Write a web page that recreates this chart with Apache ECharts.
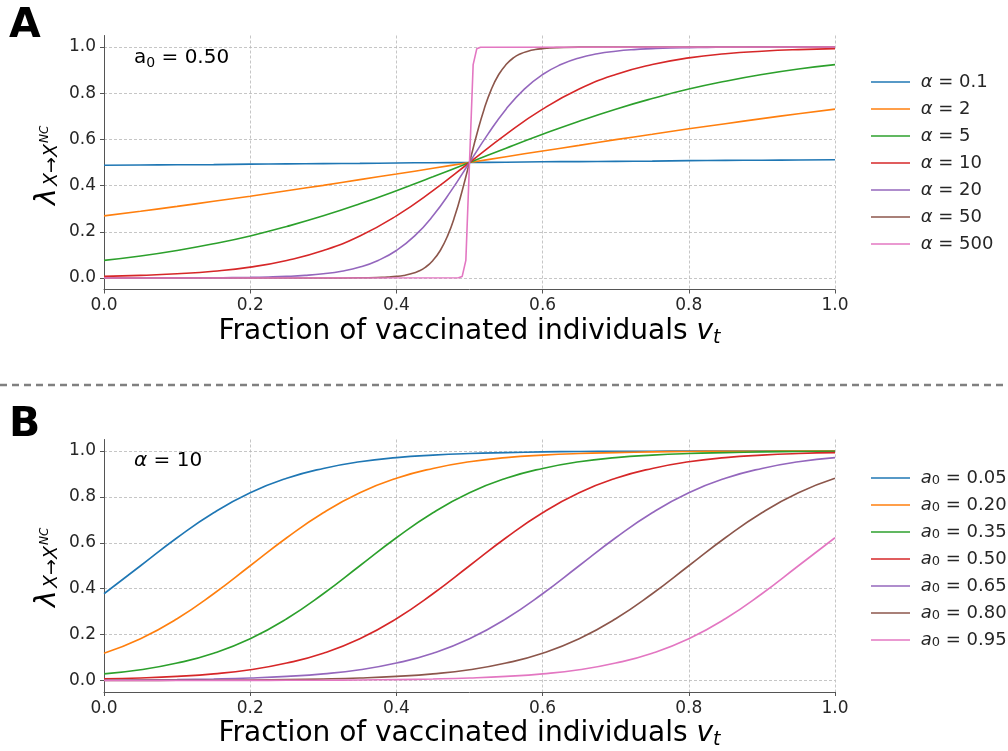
<!DOCTYPE html>
<html><head><meta charset="utf-8">
<script src="https://cdn.jsdelivr.net/npm/echarts@6/dist/echarts.min.js"></script>
<style>html,body{margin:0;padding:0;background:#fff}#c{width:1008px;height:751px}</style>
</head><body><div id="c"></div>
<script>
// ---------- data ----------
const xTicks = [0, 0.2, 0.4, 0.6, 0.8, 1.0];
const yTicks = [0, 0.2, 0.4, 0.6, 0.8, 1.0];

const xGrid = [0,0.05,0.1,0.15,0.2,0.25,0.3,0.35,0.4,0.45,0.5,0.55,0.6,0.65,0.7,0.75,0.8,0.85,0.9,0.95,1.0];
const xFine = [0,0.025,0.05,0.075,0.1,0.125,0.15,0.175,0.2,0.225,0.25,0.275,0.3,0.325,0.35,0.375,0.4,0.425,0.45,0.475,0.5,0.525,0.55,0.575,0.6,0.625,0.65,0.675,0.7,0.725,0.75,0.775,0.8,0.825,0.85,0.875,0.9,0.925,0.95,0.975,1.0];
const xA50 = [0,0.30,0.35,0.38,0.39,0.40,0.41,0.42,0.43,0.44,0.45,0.46,0.47,0.48,0.49,0.50,0.51,0.52,0.53,0.54,0.55,0.56,0.57,0.58,0.59,0.60,0.61,0.62,0.65,0.70,1.0];
const xA500 = [0,0.485,0.49,0.495,0.5,0.505,0.51,0.515,1.0];

// Panel A  (a0 = 0.50)
const namesA = ['α = 0.1','α = 2','α = 5','α = 10','α = 20','α = 50','α = 500'];
const yA01 = [0.488,0.489,0.490,0.491,0.493,0.494,0.495,0.496,0.498,0.499,0.500,0.501,0.503,0.504,0.505,0.506,0.508,0.509,0.510,0.511,0.512];
const yA2  = [0.269,0.289,0.310,0.332,0.354,0.378,0.401,0.426,0.450,0.475,0.500,0.525,0.550,0.574,0.599,0.622,0.646,0.668,0.690,0.711,0.731];
const yA5  = [0.076,0.095,0.119,0.148,0.182,0.223,0.269,0.321,0.378,0.438,0.500,0.562,0.622,0.679,0.731,0.777,0.818,0.852,0.881,0.905,0.924];
const yA10 = [0.007,0.011,0.018,0.029,0.047,0.076,0.119,0.182,0.269,0.378,0.500,0.622,0.731,0.818,0.881,0.924,0.953,0.971,0.982,0.989,0.993];
const yA20 = [0.0000,0.0001,0.0001,0.0002,0.0003,0.0006,0.0009,0.0015,0.0025,0.0041,0.0067,0.011,0.018,0.029,0.047,0.076,0.119,0.182,0.269,0.378,0.500,0.622,0.731,0.818,0.881,0.924,0.953,0.971,0.982,0.989,0.993,0.996,0.9975,0.9985,0.9991,0.9994,0.9997,0.9998,0.9999,0.9999,1.0];
const yA50 = [0,0.0000,0.0006,0.0025,0.0041,0.0067,0.011,0.018,0.029,0.047,0.076,0.119,0.182,0.269,0.378,0.500,0.622,0.731,0.818,0.881,0.924,0.953,0.971,0.982,0.989,0.993,0.996,0.9975,0.9995,1.0,1.0];
const yA500 = [0,0.0006,0.0067,0.076,0.500,0.924,0.993,0.9994,1.0];

// Panel B  (alpha = 10)
const namesB = ['a0 = 0.05','a0 = 0.20','a0 = 0.35','a0 = 0.50','a0 = 0.65','a0 = 0.80','a0 = 0.95'];
const yB05 = [0.378,0.500,0.622,0.731,0.818,0.881,0.924,0.953,0.971,0.982,0.989,0.993,0.996,0.998,0.9985,0.999,0.9995,0.9997,0.9998,0.9999,0.9999];
const yB20 = [0.119,0.182,0.269,0.378,0.500,0.622,0.731,0.818,0.881,0.924,0.953,0.971,0.982,0.989,0.993,0.996,0.998,0.9985,0.999,0.9995,0.9997];
const yB35 = [0.029,0.047,0.076,0.119,0.182,0.269,0.378,0.500,0.622,0.731,0.818,0.881,0.924,0.953,0.971,0.982,0.989,0.993,0.996,0.998,0.9985];
const yB50 = [0.007,0.011,0.018,0.029,0.047,0.076,0.119,0.182,0.269,0.378,0.500,0.622,0.731,0.818,0.881,0.924,0.953,0.971,0.982,0.989,0.993];
const yB65 = [0.0015,0.0025,0.0041,0.0067,0.011,0.018,0.029,0.047,0.076,0.119,0.182,0.269,0.378,0.500,0.622,0.731,0.818,0.881,0.924,0.953,0.971];
const yB80 = [0.0003,0.0006,0.0009,0.0015,0.0025,0.0041,0.0067,0.011,0.018,0.029,0.047,0.076,0.119,0.182,0.269,0.378,0.500,0.622,0.731,0.818,0.881];
const yB95 = [0.0001,0.0001,0.0002,0.0003,0.0006,0.0009,0.0015,0.0025,0.0041,0.0067,0.011,0.018,0.029,0.047,0.076,0.119,0.182,0.269,0.378,0.500,0.622];

const colors = ['#1f77b4','#ff7f0e','#2ca02c','#d62728','#9467bd','#8c564b','#e377c2'];

// ---------- chart ----------
const FF = 'DejaVu Sans';
const TXT = '#262626';
const AX = '#555555';

function mk(name, xs, ys, idx, gi, smooth) {
  return {
    type: 'line', name: name, xAxisIndex: gi, yAxisIndex: gi,
    data: xs.map((x, i) => [x, ys[i]]),
    showSymbol: false, symbol: 'none', silent: true,
    smooth: smooth ? 0.5 : false,
    lineStyle: { width: 1.6, color: colors[idx] },
    itemStyle: { color: colors[idx] }
  };
}

function xAx(gi) {
  return {
    type: 'value', gridIndex: gi, min: 0, max: 1, interval: 0.2,
    axisLine: { show: true, onZero: false, lineStyle: { color: AX, width: 1 } },
    axisTick: { show: true, length: 4, lineStyle: { color: AX } },
    axisLabel: { fontFamily: FF, fontSize: 17, color: TXT, margin: 8, formatter: v => v.toFixed(1) },
    splitLine: { show: true, lineStyle: { color: '#b8b8b8', width: 0.8, type: [3, 2] } },
    name: '{n|Fraction of vaccinated individuals }{v|v}{t|t}',
    nameLocation: 'middle', nameGap: 26,
    nameTextStyle: {
      rich: {
        n: { fontFamily: FF, fontSize: 28, color: '#000', lineHeight: 32 },
        v: { fontFamily: FF, fontSize: 28, color: '#000', fontStyle: 'italic', lineHeight: 32 },
        t: { fontFamily: FF, fontSize: 19, color: '#000', fontStyle: 'italic', lineHeight: 19, verticalAlign: 'bottom' }
      }
    }
  };
}
function yAx(gi) {
  return {
    type: 'value', gridIndex: gi, min: -0.05, max: 1.05,
    axisLine: { show: true, lineStyle: { color: AX, width: 1 } },
    axisTick: { show: true, length: 4, customValues: yTicks, lineStyle: { color: AX } },
    axisLabel: { fontFamily: FF, fontSize: 17, color: TXT, margin: 8, customValues: yTicks, formatter: v => v.toFixed(1) },
    splitLine: { show: true, lineStyle: { color: '#b8b8b8', width: 0.8, type: [3, 2] } }
  };
}

const legendRich = {
  i: { fontFamily: FF, fontSize: 18, color: TXT, fontStyle: 'italic', lineHeight: 18 },
  s: { fontFamily: FF, fontSize: 13, color: TXT, lineHeight: 12, verticalAlign: 'bottom' }
};

function yLabel(x0, y0) {
  const base = { fill: '#000', fontFamily: FF, fontStyle: 'italic', textAlign: 'left', align: 'left', textVerticalAlign: 'middle', verticalAlign: 'middle' };
  return {
    type: 'group', x: x0, y: y0, rotation: Math.PI / 2, silent: true,
    children: [
      { type: 'text', x: 0, y: -9, style: Object.assign({}, base, { text: 'λ', fontSize: 28 }) },
      { type: 'text', x: 19, y: -5, style: Object.assign({}, base, { text: 'X→X', fontSize: 19 }) },
      { type: 'text', x: 62, y: -12, style: Object.assign({}, base, { text: 'NC', fontSize: 12 }) }
    ]
  };
}

const option = {
  animation: false,
  backgroundColor: '#fff',
  grid: [
    { left: 104, right: 173, top: 35.5, height: 254 },
    { left: 104, right: 173, top: 439.5, height: 253 }
  ],
  xAxis: [xAx(0), xAx(1)],
  yAxis: [yAx(0), yAx(1)],
  legend: [
    {
      data: namesA, orient: 'vertical', left: 866, top: 68, itemWidth: 39, itemHeight: 1.5, itemGap: 9,
      icon: 'rect', selectedMode: false,
      textStyle: { fontFamily: FF, fontSize: 18, color: TXT, lineHeight: 18, rich: legendRich },
      formatter: n => ' ' + n.replace('α', '{i|α}')
    },
    {
      data: namesB, orient: 'vertical', left: 866, top: 464, itemWidth: 39, itemHeight: 1.5, itemGap: 9,
      icon: 'rect', selectedMode: false,
      textStyle: { fontFamily: FF, fontSize: 18, color: TXT, lineHeight: 18, rich: legendRich },
      formatter: n => ' {i|a}{s|0}' + n.slice(2)
    }
  ],
  series: [
    mk(namesA[0], xGrid, yA01, 0, 0, true),
    mk(namesA[1], xGrid, yA2, 1, 0, true),
    mk(namesA[2], xGrid, yA5, 2, 0, true),
    mk(namesA[3], xGrid, yA10, 3, 0, true),
    mk(namesA[4], xFine, yA20, 4, 0, true),
    mk(namesA[5], xA50, yA50, 5, 0, true),
    mk(namesA[6], xA500, yA500, 6, 0, false),
    mk(namesB[0], xGrid, yB05, 0, 1, true),
    mk(namesB[1], xGrid, yB20, 1, 1, true),
    mk(namesB[2], xGrid, yB35, 2, 1, true),
    mk(namesB[3], xGrid, yB50, 3, 1, true),
    mk(namesB[4], xGrid, yB65, 4, 1, true),
    mk(namesB[5], xGrid, yB80, 5, 1, true),
    mk(namesB[6], xGrid, yB95, 6, 1, true)
  ],
  graphic: [
    { type: 'text', left: 9, top: 6, silent: true, style: { text: 'A', fontFamily: FF, fontSize: 41, fontWeight: 'bold', fill: '#000' } },
    { type: 'text', left: 9, top: 405, silent: true, style: { text: 'B', fontFamily: FF, fontSize: 41, fontWeight: 'bold', fill: '#000' } },
    { type: 'line', silent: true, shape: { x1: 0, y1: 385, x2: 1008, y2: 385 }, style: { stroke: '#808080', lineWidth: 2.5, lineDash: [7, 5] } },
    {
      type: 'text', left: 134, top: 48, silent: true,
      style: {
        text: '{r|a}{s|0}{r| = 0.50}',
        rich: {
          r: { fontFamily: FF, fontSize: 20, fill: '#000', color: '#000', lineHeight: 24 },
          s: { fontFamily: FF, fontSize: 14, fill: '#000', color: '#000', lineHeight: 14, verticalAlign: 'bottom' }
        }
      }
    },
    {
      type: 'text', left: 134, top: 451, silent: true,
      style: {
        text: '{i|α}{r| = 10}',
        rich: {
          r: { fontFamily: FF, fontSize: 20, fill: '#000', color: '#000', lineHeight: 24 },
          i: { fontFamily: FF, fontSize: 20, fill: '#000', color: '#000', lineHeight: 24, fontStyle: 'italic' }
        }
      }
    },
    yLabel(57, 205),
    yLabel(57, 607)
  ]
};

const chart = echarts.init(document.getElementById('c'), null, { renderer: 'canvas' });
chart.setOption(option);
</script></body></html>
